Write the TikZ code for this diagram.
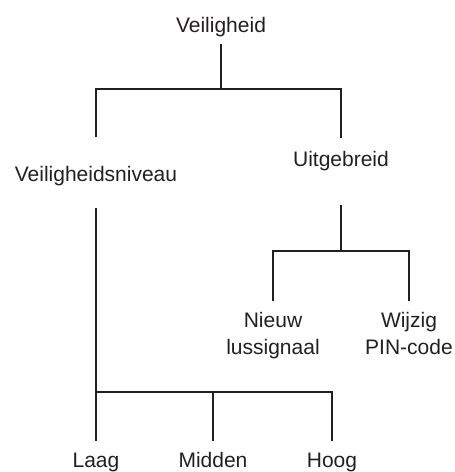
\documentclass[tikz,border=0pt]{standalone}
\usepackage{fontspec}
\setmainfont{Liberation Sans}
\usepackage{tikz}
\usetikzlibrary{calc}
\definecolor{Ink}{HTML}{231F20}
\tikzset{
  item/.style={font=\fontsize{10.5}{13.5}\selectfont,text=Ink,inner sep=0pt,
    text height=7.6pt,text depth=2.2pt,anchor=base},
  twoline/.style={font=\fontsize{10.5}{13.5}\selectfont,text=Ink,inner sep=0pt,
    align=center,anchor=north},
  link/.style={draw=Ink,line width=1pt}
}
\begin{document}
\begin{tikzpicture}[x=0.5pt,y=-0.5pt]
        \useasboundingbox (0,0) rectangle (455,472);
        \node[item] (veil) at (221,32) {Veiligheid};
        \node[item] (niveau) at (96,181) {Veiligheidsniveau};
        \node[item] (uitg) at (341,166) {Uitgebreid};
        \node[twoline] (nieuw) at (273,312) {Nieuw\\lussignaal};
        \node[twoline] (wijzig) at (409,312) {Wijzig\\PIN-code};
        \node[item] (laag) at (96,467) {Laag};
        \node[item] (midden) at (213,467) {Midden};
        \node[item] (hoog) at (332,467) {Hoog};
        \coordinate (jv) at (221,89);
        \coordinate (ju) at (341,251);
        \coordinate (jl) at (96,392);
        % top split
        \draw[link] ($(veil.south)+(0,7)$) -- (jv);
        \draw[link] ($(niveau.north)+(0,-28)$) |- (jv) -| ($(uitg.north)+(0,-12)$);
        % Uitgebreid
        \draw[link] ($(uitg.south)+(0,34)$) -- (ju);
        \draw[link] ($(nieuw.north)+(0,-11)$) |- (ju) -| ($(wijzig.north)+(0,-11)$);
        % Veiligheidsniveau
        \draw[link] ($(niveau.south)+(0,22)$) -- ($(laag.north)+(0,-10)$);
        \draw[link] (jl) -| ($(hoog.north)+(0,-10)$);
        \draw[link] (midden.north |- jl) -- ($(midden.north)+(0,-10)$);
      \end{tikzpicture}
\end{document}
